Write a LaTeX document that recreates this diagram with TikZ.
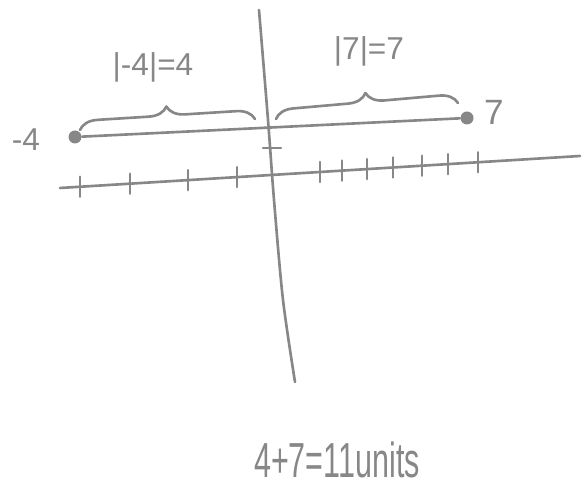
\documentclass[tikz,border=0pt]{standalone}
\usepackage{fontspec}
\setmainfont{Liberation Sans}
\usetikzlibrary{decorations.pathreplacing}
\definecolor{pencilgray}{RGB}{135,135,135}
\tikzset{
  pencil/.style={pencilgray, line width=0.75pt, line cap=round, line join=round},
  numdot/.style={circle, fill=pencilgray, inner sep=0pt, minimum size=1.3mm},
  handtext/.style={text=pencilgray, inner sep=0pt},
  curly/.style={pencil, decorate, decoration={brace, amplitude=1.8mm}}
}
\begin{document}
\begin{tikzpicture}[x=0.1mm,y=-0.1mm]
  \useasboundingbox (0,0) rectangle (583,483);
  \def\xa{60}
  \def\ya{188}
  \def\xb{580}
  \def\yb{156}

  % axe vertical
  \draw[pencil] plot[smooth] coordinates {(259,10) (268,120) (274,200) (283,300) (295,382)};
  \draw[pencil] (263,148)--(281,148);

  % axe horizontal
  \draw[pencil] (\xa,\ya)--(\xb,\yb);
  \foreach \x in {80,130,188,237,320,342,367,393,422,448,478}{
    \pgfmathsetmacro{\y}{\ya + (\x-\xa)*(\yb-\ya)/(\xb-\xa)}
    \draw[pencil] (\x,\y-10)--(\x,\y+10);
  }

  % les deux points et le segment
  \node[numdot] (neg) at (75,137) {};
  \node[numdot] (pos) at (467,118) {};
  \draw[pencil] (neg)--(pos);
  \node[handtext,font=\fontsize{9}{10}\selectfont] (neglbl) at (26,140) {-4};
  \node[handtext,font=\fontsize{10}{11}\selectfont] (poslbl) at (494,112) {7};

  % accolades
  \coordinate (lbA) at (80,130);
  \coordinate (lbB) at (255,119);
  \coordinate (rbA) at (276,119);
  \coordinate (rbB) at (458,103);
  \draw[curly] (lbA)--(lbB);
  \draw[curly] (rbA)--(rbB);
  \node[handtext,font=\fontsize{9}{10}\selectfont] (negabs) at (153,67) {|-4|=4};
  \node[handtext,font=\fontsize{9}{10}\selectfont] (posabs) at (369,51) {|7|=7};

  % total
  \node[handtext,font=\fontsize{14}{15}\selectfont,xscale=0.62,transform shape] (total) at (337,460) {4+7=11units};
\end{tikzpicture}
\end{document}
